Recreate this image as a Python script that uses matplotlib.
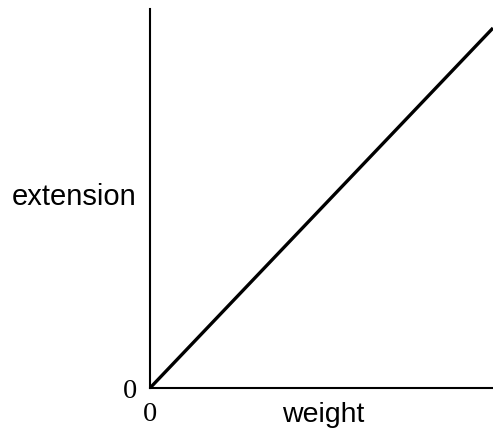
import matplotlib
matplotlib.use("Agg")
import matplotlib.pyplot as plt

# straight line through the origin: extension grows with weight
weight = [0, 10]
extension = [0, 10]
tick_labels = ["0"]

W, H = 493, 433

def main():
    fig = plt.figure(figsize=(W / 100, H / 100), dpi=100)
    # axes box in pixels: left 150, right 493, top 9, bottom 388
    ax = fig.add_axes([150 / W, (H - 388) / H, (W - 150) / W, (388 - 9) / H])

    ax.plot(weight, extension, color="black", linewidth=2.4, solid_capstyle="butt")
    ax.set_xlim(0, 10)
    ax.set_ylim(0, 10 * 379 / 360)

    for side in ["top", "right"]:
        ax.spines[side].set_visible(False)
    for side in ["left", "bottom"]:
        ax.spines[side].set_linewidth(1.5)

    ax.set_xticks([0])
    ax.set_yticks([0])
    ax.set_xticklabels(tick_labels, fontfamily="Liberation Serif", fontsize=20.5)
    ax.set_yticklabels(tick_labels, fontfamily="Liberation Serif", fontsize=20.5)
    ax.tick_params(axis="x", length=0, pad=10)
    ax.tick_params(axis="y", length=0, pad=9)

    fig.text(74 / W, (H - 205) / H, "extension", ha="center", va="baseline",
             fontfamily="Liberation Sans", fontsize=21)
    fig.text(323 / W, (H - 422) / H, "weight", ha="center", va="baseline",
             fontfamily="Liberation Sans", fontsize=20.5)

    fig.savefig("out.png", dpi=100)

main()
